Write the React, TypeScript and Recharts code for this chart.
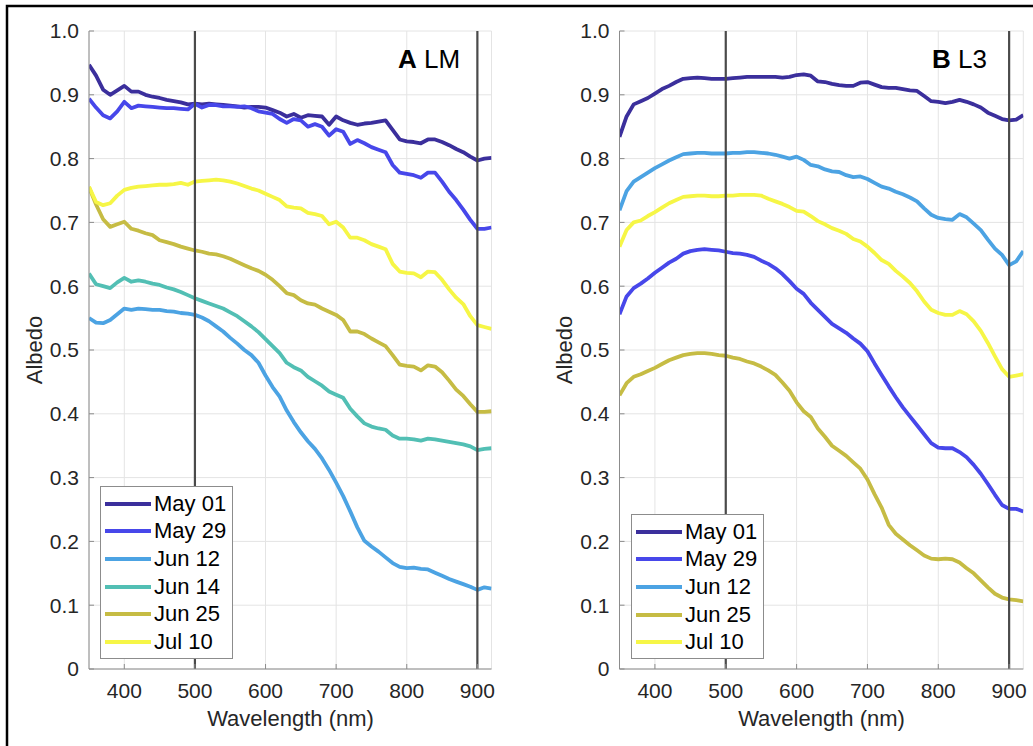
import React from 'react';
import { LineChart, Line, XAxis, YAxis, CartesianGrid, ReferenceLine, Legend } from 'recharts';

const FONT = '"Liberation Sans", Arial, Helvetica, sans-serif';
const TEXT = '#262626';
const BOX = '#8c8c8c';
const GRID = '#e4e4e4';

const wavelengths = [
  350, 360, 370, 380, 390, 400, 410, 420, 430, 440,
  450, 460, 470, 480, 490, 500, 510, 520, 530, 540,
  550, 560, 570, 580, 590, 600, 610, 620, 630, 640,
  650, 660, 670, 680, 690, 700, 710, 720, 730, 740,
  750, 760, 770, 780, 790, 800, 810, 820, 830, 840,
  850, 860, 870, 880, 890, 900, 910, 920,
];
const xTicks = [400, 500, 600, 700, 800, 900];
const yTicks = [0, 0.1, 0.2, 0.3, 0.4, 0.5, 0.6, 0.7, 0.8, 0.9, 1.0];
const markerLines = [500, 900];

const seriesNames = ['May 01', 'May 29', 'Jun 12', 'Jun 14', 'Jun 25', 'Jul 10'];
const seriesColors = ['#3b2f9c', '#4747ea', '#4ca3e3', '#52bfb4', '#c6bc44', '#f6f646'];

// Panel A (LM)
const lmMay01 = [
  0.947, 0.930, 0.908, 0.900, 0.907, 0.914, 0.905, 0.905, 0.900, 0.897,
  0.895, 0.892, 0.890, 0.888, 0.885, 0.886, 0.885, 0.886, 0.885, 0.884,
  0.883, 0.882, 0.880, 0.881, 0.881, 0.880, 0.876, 0.872, 0.866, 0.870,
  0.864, 0.868, 0.867, 0.866, 0.853, 0.866, 0.860, 0.856, 0.853, 0.855,
  0.856, 0.858, 0.860, 0.845, 0.830, 0.827, 0.826, 0.824, 0.830, 0.830,
  0.826, 0.821, 0.815, 0.810, 0.803, 0.797, 0.800, 0.801,
];
const lmMay29 = [
  0.894, 0.880, 0.868, 0.863, 0.874, 0.889, 0.879, 0.883, 0.882, 0.881,
  0.880, 0.879, 0.879, 0.878, 0.877, 0.886, 0.880, 0.884, 0.884, 0.882,
  0.882, 0.881, 0.882, 0.879, 0.874, 0.872, 0.870, 0.862, 0.856, 0.862,
  0.860, 0.850, 0.854, 0.850, 0.836, 0.846, 0.842, 0.823, 0.829, 0.824,
  0.818, 0.814, 0.810, 0.790, 0.778, 0.776, 0.774, 0.770, 0.778, 0.778,
  0.764, 0.748, 0.735, 0.720, 0.704, 0.690, 0.690, 0.692,
];
const lmJun12 = [
  0.550, 0.543, 0.542, 0.547, 0.556, 0.565, 0.563, 0.565, 0.564, 0.563,
  0.563, 0.561, 0.560, 0.558, 0.557, 0.555, 0.551, 0.545, 0.537, 0.529,
  0.519, 0.510, 0.500, 0.492, 0.480, 0.460, 0.442, 0.427, 0.405, 0.387,
  0.371, 0.357, 0.345, 0.330, 0.312, 0.292, 0.271, 0.247, 0.222, 0.201,
  0.192, 0.184, 0.175, 0.166, 0.160, 0.158, 0.159, 0.157, 0.156, 0.151,
  0.146, 0.141, 0.137, 0.133, 0.129, 0.124, 0.128, 0.126,
];
const lmJun14 = [
  0.620, 0.603, 0.600, 0.597, 0.606, 0.613, 0.607, 0.609, 0.607, 0.604,
  0.602, 0.598, 0.595, 0.591, 0.586, 0.581, 0.577, 0.573, 0.569, 0.565,
  0.559, 0.553, 0.545, 0.537, 0.528, 0.517, 0.506, 0.495, 0.480, 0.473,
  0.468, 0.458, 0.451, 0.444, 0.435, 0.430, 0.425, 0.408, 0.396, 0.385,
  0.380, 0.377, 0.375, 0.366, 0.361, 0.361, 0.360, 0.358, 0.361, 0.360,
  0.358, 0.356, 0.354, 0.352, 0.349, 0.343, 0.345, 0.346,
];
const lmJun25 = [
  0.755, 0.728, 0.705, 0.693, 0.697, 0.701, 0.690, 0.687, 0.683, 0.680,
  0.672, 0.669, 0.666, 0.662, 0.659, 0.656, 0.654, 0.651, 0.650, 0.647,
  0.643, 0.638, 0.633, 0.628, 0.624, 0.618, 0.610, 0.600, 0.589, 0.586,
  0.578, 0.573, 0.571, 0.565, 0.560, 0.555, 0.547, 0.529, 0.529, 0.525,
  0.518, 0.512, 0.506, 0.492, 0.477, 0.475, 0.474, 0.468, 0.476, 0.474,
  0.465, 0.452, 0.438, 0.428, 0.415, 0.403, 0.403, 0.404,
];
const lmJul10 = [
  0.756, 0.732, 0.727, 0.730, 0.742, 0.751, 0.754, 0.756, 0.757, 0.758,
  0.759, 0.759, 0.760, 0.762, 0.759, 0.764, 0.765, 0.766, 0.767, 0.766,
  0.764, 0.761, 0.757, 0.753, 0.750, 0.745, 0.740, 0.735, 0.725, 0.723,
  0.722, 0.715, 0.713, 0.710, 0.697, 0.701, 0.692, 0.676, 0.676, 0.672,
  0.666, 0.662, 0.658, 0.635, 0.623, 0.621, 0.620, 0.614, 0.623, 0.622,
  0.610, 0.595, 0.582, 0.572, 0.553, 0.539, 0.536, 0.533,
];

// Panel B (L3)
const l3May01 = [
  0.834, 0.866, 0.885, 0.890, 0.895, 0.902, 0.909, 0.914, 0.920, 0.925,
  0.926, 0.927, 0.926, 0.925, 0.925, 0.925, 0.926, 0.927, 0.928, 0.928,
  0.928, 0.928, 0.928, 0.927, 0.928, 0.931, 0.932, 0.930, 0.921, 0.920,
  0.917, 0.915, 0.914, 0.914, 0.919, 0.920, 0.916, 0.912, 0.911, 0.911,
  0.909, 0.907, 0.906, 0.898, 0.890, 0.889, 0.887, 0.889, 0.892, 0.889,
  0.885, 0.880, 0.872, 0.867, 0.862, 0.860, 0.861, 0.868,
];
const l3May29 = [
  0.556, 0.584, 0.597, 0.604, 0.612, 0.621, 0.629, 0.637, 0.643, 0.651,
  0.655, 0.657, 0.658, 0.657, 0.656, 0.654, 0.652, 0.651, 0.649, 0.646,
  0.640, 0.635, 0.628, 0.619, 0.608, 0.596, 0.588, 0.574, 0.563, 0.552,
  0.541, 0.534, 0.527, 0.518, 0.510, 0.498, 0.479, 0.461, 0.443, 0.426,
  0.410, 0.396, 0.382, 0.368, 0.354, 0.347, 0.346, 0.346, 0.340, 0.332,
  0.320, 0.306, 0.290, 0.273, 0.257, 0.251, 0.251, 0.247,
];
const l3Jun12 = [
  0.719, 0.749, 0.764, 0.771, 0.778, 0.785, 0.791, 0.797, 0.802, 0.807,
  0.808, 0.809, 0.809, 0.808, 0.808, 0.808, 0.809, 0.809, 0.810, 0.810,
  0.809, 0.808, 0.806, 0.803, 0.800, 0.803, 0.798, 0.790, 0.788, 0.783,
  0.780, 0.779, 0.774, 0.771, 0.772, 0.768, 0.762, 0.756, 0.753, 0.748,
  0.744, 0.739, 0.733, 0.722, 0.712, 0.707, 0.705, 0.704, 0.713, 0.708,
  0.698, 0.688, 0.673, 0.659, 0.649, 0.633, 0.639, 0.655,
];
const l3Jun25 = [
  0.429, 0.448, 0.458, 0.462, 0.467, 0.472, 0.478, 0.484, 0.488, 0.492,
  0.494, 0.495, 0.495, 0.494, 0.492, 0.491, 0.488, 0.486, 0.482, 0.479,
  0.474, 0.468, 0.461, 0.449, 0.436, 0.418, 0.404, 0.395, 0.377, 0.364,
  0.350, 0.342, 0.334, 0.324, 0.314, 0.297, 0.274, 0.253, 0.226, 0.212,
  0.203, 0.194, 0.186, 0.178, 0.173, 0.172, 0.173, 0.172, 0.167, 0.158,
  0.150, 0.139, 0.128, 0.118, 0.112, 0.109, 0.108, 0.106,
];
const l3Jul10 = [
  0.662, 0.688, 0.700, 0.703, 0.710, 0.716, 0.723, 0.730, 0.735, 0.740,
  0.741, 0.742, 0.742, 0.741, 0.741, 0.742, 0.742, 0.743, 0.743, 0.743,
  0.742, 0.737, 0.733, 0.729, 0.724, 0.718, 0.717, 0.710, 0.702, 0.697,
  0.691, 0.687, 0.682, 0.674, 0.670, 0.662, 0.652, 0.641, 0.635, 0.624,
  0.615, 0.605, 0.592, 0.576, 0.563, 0.558, 0.555, 0.555, 0.561, 0.556,
  0.545, 0.530, 0.511, 0.490, 0.470, 0.458, 0.460, 0.462,
];

type Series = { key: string; name: string; color: string; values: number[] };

const lmSeries: Series[] = [
  { key: 's0', name: seriesNames[0], color: seriesColors[0], values: lmMay01 },
  { key: 's1', name: seriesNames[1], color: seriesColors[1], values: lmMay29 },
  { key: 's2', name: seriesNames[2], color: seriesColors[2], values: lmJun12 },
  { key: 's3', name: seriesNames[3], color: seriesColors[3], values: lmJun14 },
  { key: 's4', name: seriesNames[4], color: seriesColors[4], values: lmJun25 },
  { key: 's5', name: seriesNames[5], color: seriesColors[5], values: lmJul10 },
];
const l3Series: Series[] = [
  { key: 's0', name: seriesNames[0], color: seriesColors[0], values: l3May01 },
  { key: 's1', name: seriesNames[1], color: seriesColors[1], values: l3May29 },
  { key: 's2', name: seriesNames[2], color: seriesColors[2], values: l3Jun12 },
  { key: 's4', name: seriesNames[4], color: seriesColors[4], values: l3Jun25 },
  { key: 's5', name: seriesNames[5], color: seriesColors[5], values: l3Jul10 },
];

function buildRows(series: Series[]) {
  return wavelengths.map((w, i) => {
    const row: Record<string, number> = { w };
    series.forEach((s) => {
      row[s.key] = s.values[i];
    });
    return row;
  });
}

const LegendBox = (props: any) => {
  const payload = [...(props.payload || [])].sort(
    (a: any, b: any) => seriesNames.indexOf(a.value) - seriesNames.indexOf(b.value)
  );
  return (
    <div
      style={{
        border: `1px solid ${BOX}`,
        background: '#fff',
        boxSizing: 'border-box',
        paddingTop: 2.5,
        paddingBottom: 2,
        fontFamily: FONT,
      }}
    >
      {payload.map((entry: any, i: number) => (
        <div key={i} style={{ position: 'relative', height: 27.7 }}>
          <div
            style={{
              position: 'absolute',
              left: 4,
              top: 12,
              width: 46,
              height: 4,
              background: entry.color,
            }}
          />
          <div
            style={{
              position: 'absolute',
              left: 53,
              top: 0,
              lineHeight: '27.7px',
              fontSize: 22,
              color: '#000',
              whiteSpace: 'nowrap',
            }}
          >
            {entry.value}
          </div>
        </div>
      ))}
    </div>
  );
};

type PanelProps = {
  left: number;
  width: number;
  plotLeft: number;
  plotRight: number;
  series: Series[];
  legendLeft: number;
  legendTop: number;
};

function Panel({ left, width, plotLeft, plotRight, series, legendLeft, legendTop }: PanelProps) {
  const data = buildRows(series);
  const yAxisW = 60;
  const xAxisH = 77;
  const tickStyle = { fontSize: 21, fill: TEXT, fontFamily: FONT };
  return (
    <div style={{ position: 'absolute', left, top: 0 }}>
      <LineChart
        width={width}
        height={746}
        data={data}
        margin={{ top: 31, right: width - plotRight, bottom: 0, left: plotLeft - yAxisW }}
      >
        <CartesianGrid stroke={GRID} strokeWidth={1} />
        <XAxis
          dataKey="w"
          type="number"
          domain={[350, 920]}
          ticks={xTicks}
          allowDataOverflow
          height={xAxisH}
          tickSize={-5}
          tickMargin={19}
          stroke={BOX}
          tick={tickStyle}
          interval={0}
        />
        <XAxis
          xAxisId="top"
          orientation="top"
          dataKey="w"
          type="number"
          domain={[350, 920]}
          ticks={xTicks}
          allowDataOverflow
          height={0}
          tickSize={-5}
          tick={false}
          stroke={BOX}
        />
        <YAxis
          type="number"
          domain={[0, 1]}
          ticks={yTicks}
          allowDataOverflow
          width={yAxisW}
          tickSize={-5}
          tickMargin={15}
          stroke={BOX}
          tick={tickStyle}
          interval={0}
          tickFormatter={(v: number) => (v === 0 ? '0' : v.toFixed(1))}
        />
        <YAxis
          yAxisId="right"
          orientation="right"
          type="number"
          domain={[0, 1]}
          ticks={yTicks}
          allowDataOverflow
          width={0}
          tickSize={-5}
          tick={false}
          stroke={BOX}
        />
        {series.map((s) => (
          <Line
            key={s.key}
            dataKey={s.key}
            name={s.name}
            stroke={s.color}
            strokeWidth={3.8}
            strokeLinejoin="round"
            dot={false}
            activeDot={false}
            type="linear"
            isAnimationActive={false}
          />
        ))}
        {markerLines.map((x) => (
          <ReferenceLine key={x} x={x} stroke="#4a4a4a" strokeWidth={2.2} ifOverflow="visible" />
        ))}
        <Legend
          layout="vertical"
          align="center"
          verticalAlign="middle"
          content={<LegendBox />}
          wrapperStyle={{ left: legendLeft, top: legendTop, width: 133, height: 'auto' }}
        />
      </LineChart>
    </div>
  );
}

export default function App() {
  return (
    <div style={{ position: 'absolute', left: 0, top: 0, width: 1033, height: 746, background: '#fff', overflow: 'hidden' }}>
      <Panel
        left={0}
        width={520}
        plotLeft={89}
        plotRight={491.5}
        series={lmSeries}
        legendLeft={100}
        legendTop={486}
      />
      <Panel
        left={520}
        width={513}
        plotLeft={99.5}
        plotRight={503.3}
        series={l3Series}
        legendLeft={111}
        legendTop={514}
      />
      <svg
        width={1033}
        height={746}
        style={{ position: 'absolute', left: 0, top: 0, pointerEvents: 'none' }}
        fontFamily={FONT}
      >
        <polyline points="7,746 7,6 1033,6" fill="none" stroke="#000" strokeWidth={2.5} />
        <text x={398} y={68} fontSize={26} fill="#000">
          <tspan fontWeight="bold">A</tspan>
          <tspan> LM</tspan>
        </text>
        <text x={932} y={68} fontSize={26} fill="#000">
          <tspan fontWeight="bold">B</tspan>
          <tspan> L3</tspan>
        </text>
        <text x={290.5} y={726} fontSize={22} fill={TEXT} textAnchor="middle">
          Wavelength (nm)
        </text>
        <text x={821.5} y={726} fontSize={22} fill={TEXT} textAnchor="middle">
          Wavelength (nm)
        </text>
        <text transform="translate(42,350) rotate(-90)" fontSize={22} fill={TEXT} textAnchor="middle">
          Albedo
        </text>
        <text transform="translate(572,350) rotate(-90)" fontSize={22} fill={TEXT} textAnchor="middle">
          Albedo
        </text>
      </svg>
    </div>
  );
}
